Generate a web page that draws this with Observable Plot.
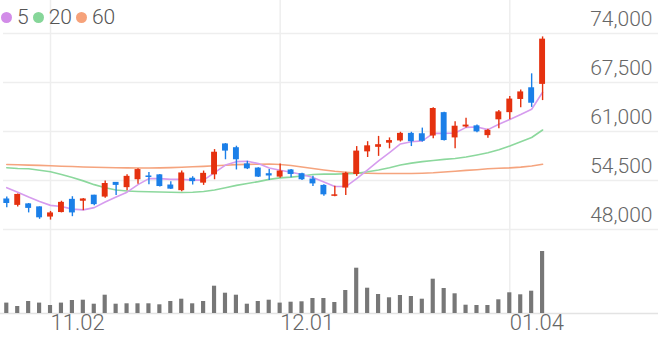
<!DOCTYPE html>
<html><head><meta charset="utf-8">
<script src="https://cdn.jsdelivr.net/npm/d3@7"></script>
<script src="https://cdn.jsdelivr.net/npm/@observablehq/plot@0.6"></script>
<style>
html,body{margin:0;padding:0;background:#fff;}
#wrap{position:relative;width:658px;height:342px;overflow:hidden;font-family:Roboto,sans-serif;}
#price{position:absolute;left:0;top:0;}
#volume{position:absolute;left:0;top:240px;}
#legend{position:absolute;left:1px;top:6px;display:flex;align-items:center;font-size:21px;line-height:22px;color:#555;font-weight:300;}
.dot{display:inline-block;width:11px;height:11px;border-radius:50%;margin-right:5px;}
.lab{margin-right:4px;}
</style></head><body>
<div id="wrap"><div id="price"></div><div id="volume"></div><div id="legend"></div></div>
<script>
// ---- data ----
const openP  = [52050,51200,51400,51000,49650,50250,52000,51750,52550,52300,54250,53550,54600,55100,55250,53900,53150,54800,54150,55250,59350,58850,56700,56150,55400,54950,55900,55400,54700,53850,52400,53500,55300,58300,58900,59450,59750,60750,60700,60400,63500,60150,61600,61750,60450,62550,63500,65250,66800,67250];
const highP  = [52300,52700,51450,51000,50400,51750,52350,52100,52550,54450,54250,55250,56050,55550,55300,54350,55750,55000,55750,58600,59400,59050,57050,56200,55950,56700,55950,55450,55050,53950,53750,55600,59000,59650,60350,60150,60900,60900,61450,64150,63550,62300,62750,61850,61300,63800,65650,66500,68650,73550];
const lowP   = [50900,51000,50200,49350,49250,50200,49700,50500,51150,52150,52500,53150,54000,53950,53650,53300,53000,53900,53850,54600,57250,55900,55950,54900,54500,54800,54850,54500,53700,52400,52350,52500,55050,57550,57700,58700,59600,59000,59600,60050,59750,58700,61450,60850,60100,61350,62550,64150,64200,65100];
const closeP = [51450,52650,50800,49550,50200,51600,50200,52050,51300,54100,53850,55050,55950,54900,53700,53350,55500,54350,55450,58250,58400,57250,56050,54950,55100,55750,55300,54600,54050,52600,52600,55450,58400,59100,59250,59800,60750,59650,59700,64050,59800,61700,61850,60950,61150,63600,65300,66250,64750,73250];
const volume = [208,140,240,208,160,208,260,266,186,366,186,194,194,194,174,240,286,194,240,546,406,366,186,240,266,208,226,234,300,300,220,460,906,506,380,314,360,340,286,686,500,394,166,160,160,274,414,374,446,1240];
const ma5  = [53550,52950,52300,51700,51200,51050,50700,50600,50900,51650,52300,52950,53950,54750,54750,54650,54650,54550,54550,55550,56550,57000,57050,56750,56150,55850,55600,55300,54900,54300,53700,53700,54750,55900,57100,58200,59350,59650,59750,60750,60750,60800,61550,61600,61250,61950,62600,63250,63950,66200];
const ma20 = [56200,56100,56050,55850,55650,55300,54900,54450,53950,53550,53250,53100,53050,53000,52975,52950,52900,52950,53050,53250,53550,53850,54100,54350,54650,54850,54950,55100,55300,55350,55350,55400,55450,55650,55900,56200,56550,56800,57000,57150,57300,57420,57620,57880,58170,58570,59080,59630,60200,61200];
const ma60 = [56620,56580,56540,56500,56450,56400,56360,56300,56260,56220,56200,56170,56160,56160,56170,56210,56260,56320,56380,56460,56530,56600,56640,56660,56680,56620,56490,56290,56090,55890,55720,55590,55490,55470,55430,55420,55420,55430,55460,55520,55630,55730,55840,55930,56050,56120,56180,56280,56420,56650];
const maPeriods = ["5","20","60"];
const maColors  = ["#d69cee","#8cd89d","#f5a47e"];
const legendDots = ["#d28ce8","#86d699","#f6a27a"];
const yTicks = [48000,54500,61000,67500,74000];
const xTickIndex  = [4,25,46];
const xTickLabels = ["11.02","12.01","01.04"];

const RED = "#e5310f", BLUE = "#1b7fe8";
const GRID = "#eeeeee";
const candles = openP.map((o,i)=>({i, open:o, high:highP[i], low:lowP[i], close:closeP[i], vol:volume[i]}));
const colorOf = d => d.close >= d.open ? RED : BLUE;
const xOpts = {domain:[-0.3,59.6], axis:null};

const price = Plot.plot({
  width:658, height:240, marginTop:33, marginBottom:11, marginLeft:3, marginRight:0,
  x: xOpts,
  y: {domain:[48000,74000], axis:null},
  style:{fontFamily:"Roboto", background:"transparent", overflow:"visible"},
  marks:[
    Plot.gridY(yTicks, {stroke:GRID, strokeOpacity:1, strokeWidth:1.5}),
    Plot.gridX(xTickIndex, {stroke:GRID, strokeOpacity:1, strokeWidth:1.5, insetTop:-33, insetBottom:-11}),
    ...[ma60, ma20, ma5].map((m,k)=>Plot.line(m, {x:(d,i)=>i, y:d=>d, stroke:maColors[2-k], strokeWidth:1.6})),
    Plot.ruleX(candles, {x:"i", y1:"low", y2:"high", stroke:colorOf, strokeWidth:1.4}),
    Plot.rect(candles, {x1:d=>d.i-0.27, x2:d=>d.i+0.27, y1:"open", y2:"close", fill:colorOf}),
    Plot.text(yTicks, {y:d=>d, text:d=>d3.format(",")(d), frameAnchor:"right", textAnchor:"end", dx:-6, dy:-14, fontSize:21, fill:"#666", fontWeight:300})
  ]
});
document.getElementById("price").appendChild(price);

const vol = Plot.plot({
  width:658, height:102, marginTop:11, marginBottom:29, marginLeft:3, marginRight:0,
  x: xOpts,
  y: {domain:[0,1240], axis:null},
  style:{fontFamily:"Roboto", background:"transparent", overflow:"visible"},
  marks:[
    Plot.gridX(xTickIndex, {stroke:GRID, strokeOpacity:1, strokeWidth:1.5, insetTop:-11}),
    Plot.ruleY([0], {stroke:"#e3e3e3", strokeWidth:1.5, insetLeft:-3}),
    Plot.rect(candles, {x1:d=>d.i-0.19, x2:d=>d.i+0.19, y1:0, y2:"vol", fill:"#777"}),
    Plot.text(xTickIndex, {x:d=>d, text:(d,i)=>xTickLabels[i], frameAnchor:"bottom", textAnchor:"start", dx:0, dy:16, fontSize:22, fill:"#666", fontWeight:300})
  ]
});
document.getElementById("volume").appendChild(vol);

const lg = document.getElementById("legend");
maPeriods.forEach((p,k)=>{
  const dot = document.createElement("span"); dot.className="dot"; dot.style.background=legendDots[k];
  const t = document.createElement("span"); t.className="lab"; t.textContent=p;
  lg.appendChild(dot); lg.appendChild(t);
});
</script></body></html>
